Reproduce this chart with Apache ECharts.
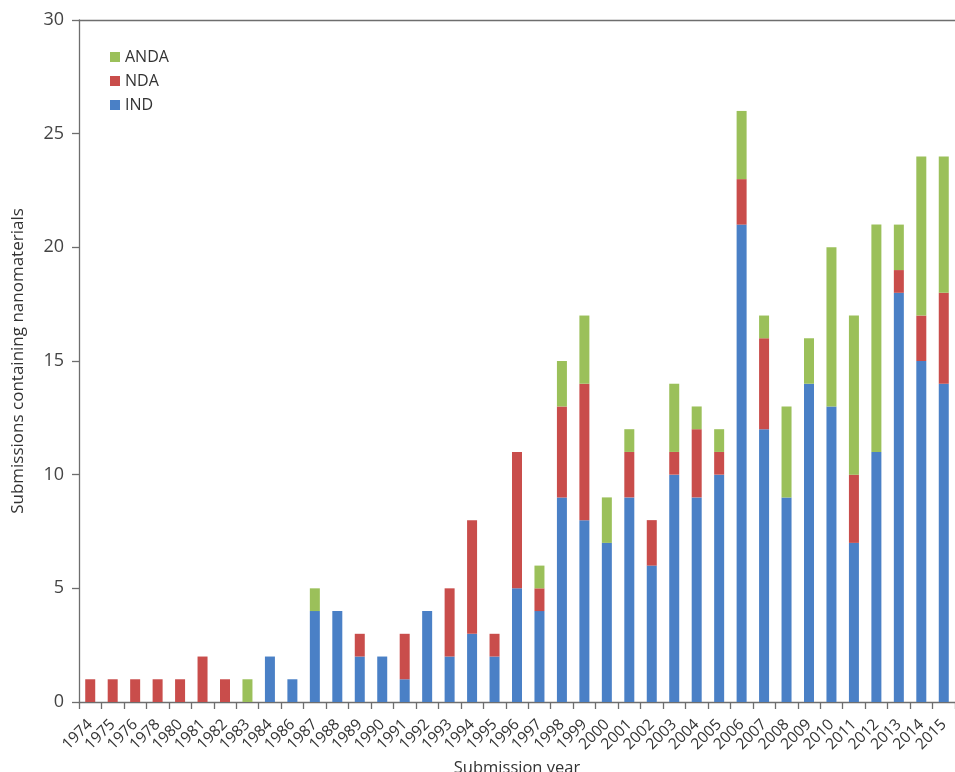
<!DOCTYPE html>
<html>
<head>
<meta charset="utf-8">
<script src="https://cdn.jsdelivr.net/npm/echarts@6/dist/echarts.min.js"></script>
<style>html,body{margin:0;padding:0;background:#fff;}#c{width:955px;height:772px;}</style>
</head>
<body>
<div id="c"></div>
<script>
const years = ['1974','1975','1976','1978','1980','1981','1982','1983','1984','1986','1987','1988','1989','1990','1991','1992','1993','1994','1995','1996','1997','1998','1999','2000','2001','2002','2003','2004','2005','2006','2007','2008','2009','2010','2011','2012','2013','2014','2015'];
const ind  = [0,0,0,0,0,0,0,0,2,1,4,4,2,2,1,4,2,3,2,5,4,9,8,7,9,6,10,9,10,21,12,9,14,13,7,11,18,15,14];
const nda  = [1,1,1,1,1,2,1,0,0,0,0,0,1,0,2,0,3,5,1,6,1,4,6,0,2,2,1,3,1,2,4,0,0,0,3,0,1,2,4];
const anda = [0,0,0,0,0,0,0,1,0,0,1,0,0,0,0,0,0,0,0,0,1,2,3,2,1,0,3,1,1,3,1,4,2,7,7,10,2,7,6];
const yTicks = [0,5,10,15,20,25,30];

const font = '"Open Sans", "Noto Sans", sans-serif';
const axisColor = '#6e6e6e';
const chart = echarts.init(document.getElementById('c'));
chart.setOption({
  animation: false,
  textStyle: {fontFamily: font},
  grid: {left: 79, right: 0, top: 20, bottom: 70, outerBoundsMode: 'none', containLabel: false},
  legend: {
    left: 105, top: 44, orient: 'vertical', itemGap: 8,
    itemWidth: 10, itemHeight: 10, icon: 'rect',
    textStyle: {fontSize: 16, color: '#333', fontFamily: font},
    data: ['ANDA','NDA','IND']
  },
  xAxis: [{
    type: 'category', data: years,
    axisLine: {lineStyle: {color: axisColor, width: 1.3}},
    axisTick: {show: true, length: 7, lineStyle: {color: axisColor, width: 1.3}},
    axisLabel: {rotate: 45, fontSize: 15.5, color: '#333', margin: 20, interval: 0, fontFamily: font},
    name: 'Submission year', nameLocation: 'middle', nameGap: 55,
    nameTextStyle: {fontSize: 16.5, color: '#333', fontFamily: font}
  }, {
    type: 'category', data: years, position: 'top',
    axisLine: {show: true, lineStyle: {color: axisColor, width: 1.3}},
    axisTick: {show: false}, axisLabel: {show: false}
  }],
  yAxis: {
    type: 'value', min: 0, max: 30, interval: 5,
    axisLine: {show: true, lineStyle: {color: axisColor, width: 1.3}},
    axisTick: {show: true, length: 7, lineStyle: {color: axisColor, width: 1.3}},
    splitLine: {show: false},
    axisLabel: {fontSize: 18, color: '#444', margin: 15, fontFamily: font,
      formatter: v => yTicks.includes(v) ? String(v) : ''},
    name: 'Submissions containing nanomaterials', nameLocation: 'middle', nameGap: 52,
    nameTextStyle: {fontSize: 17, color: '#333', fontFamily: font}
  },
  series: [
    {name: 'IND', type: 'bar', stack: 's', data: ind, barWidth: 10, itemStyle: {color: '#4a80c6'}},
    {name: 'NDA', type: 'bar', stack: 's', data: nda, barWidth: 10, itemStyle: {color: '#c94d4b'}},
    {name: 'ANDA', type: 'bar', stack: 's', data: anda, barWidth: 10, itemStyle: {color: '#9bc05a'}}
  ]
});
</script>
</body>
</html>
